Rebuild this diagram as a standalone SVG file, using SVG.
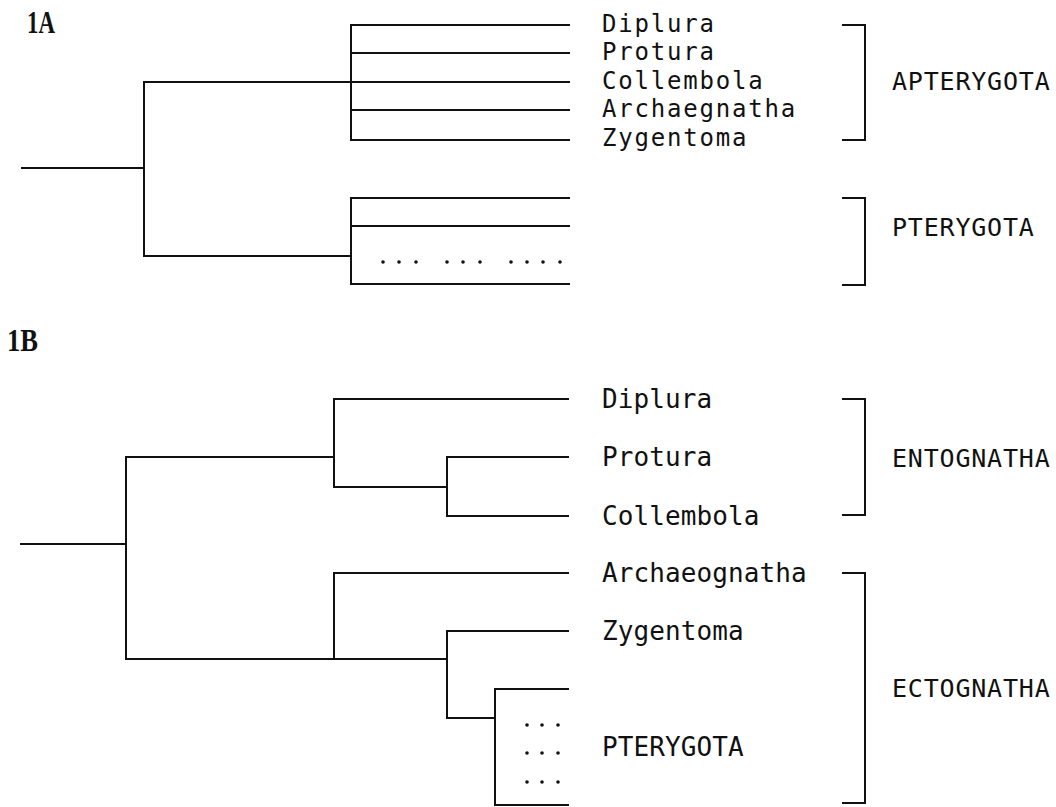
<svg xmlns="http://www.w3.org/2000/svg" width="1056" height="807" viewBox="0 0 1056 807">
<style>
  .ln { fill: none; stroke: #111; stroke-width: 2; stroke-linecap: square; }
  .br { fill: none; stroke: #111; stroke-width: 2; }
  .tA { font-family: "DejaVu Sans Mono", "Liberation Mono", monospace; font-size: 24px; letter-spacing: 1.8px; fill: #111; }
  .tB { font-family: "DejaVu Sans Mono", "Liberation Mono", monospace; font-size: 26px; letter-spacing: 0.1px; fill: #111; }
  .grp { font-family: "DejaVu Sans Mono", "Liberation Mono", monospace; font-size: 25px; letter-spacing: 0.8px; fill: #111; }
  .pl { font-family: "Liberation Serif", serif; font-weight: bold; font-size: 31px; fill: #111; }
  .dot { fill: #111; }
</style>
<rect width="1056" height="807" fill="#fff"/>

<g id="panel-labels">
  <text class="pl" x="27" y="33" textLength="28" lengthAdjust="spacingAndGlyphs">1A</text>
  <text class="pl" x="7" y="351" textLength="31" lengthAdjust="spacingAndGlyphs">1B</text>
</g>

<g id="connectors">
  <!-- 1A -->
  <path class="ln" d="M22,168 H144 M144,82 V256 M144,82 H351 M144,256 H351"/>
  <path class="ln" d="M351,25 V140 M351,25 H569 M351,53 H569 M351,82 H569 M351,110 H569 M351,140 H569"/>
  <path class="ln" d="M351,198 V284 M351,198 H569 M351,226 H569 M351,284 H569"/>
  <!-- 1B -->
  <path class="ln" d="M21,544 H126 M126,457 V659 M126,457 H334 M126,659 H334"/>
  <path class="ln" d="M334,399 V487 M334,399 H568 M334,487 H447 M447,457 V516 M447,457 H568 M447,516 H568"/>
  <path class="ln" d="M334,573 V659 M334,573 H568 M334,659 H447 M447,631 V718 M447,631 H568 M447,718 H495 M495,689 V805 M495,689 H568 M495,805 H568"/>
</g>

<g id="dots-1A">
  <circle class="dot" cx="383" cy="262" r="1.8"/><circle class="dot" cx="399" cy="262" r="1.8"/><circle class="dot" cx="416" cy="262" r="1.8"/>
  <circle class="dot" cx="447" cy="262" r="1.8"/><circle class="dot" cx="463" cy="262" r="1.8"/><circle class="dot" cx="480" cy="262" r="1.8"/>
  <circle class="dot" cx="511" cy="262" r="1.8"/><circle class="dot" cx="527" cy="262" r="1.8"/><circle class="dot" cx="543" cy="262" r="1.8"/><circle class="dot" cx="560" cy="262" r="1.8"/>
</g>

<g id="dots-1B">
  <circle class="dot" cx="527" cy="725" r="1.8"/><circle class="dot" cx="542" cy="725" r="1.8"/><circle class="dot" cx="558" cy="725" r="1.8"/>
  <circle class="dot" cx="527" cy="753" r="1.8"/><circle class="dot" cx="542" cy="753" r="1.8"/><circle class="dot" cx="558" cy="753" r="1.8"/>
  <circle class="dot" cx="527" cy="782" r="1.8"/><circle class="dot" cx="542" cy="782" r="1.8"/><circle class="dot" cx="558" cy="782" r="1.8"/>
</g>

<g id="taxa-1A">
  <text class="tA" x="602" y="32">Diplura</text>
  <text class="tA" x="602" y="60">Protura</text>
  <text class="tA" x="602" y="89">Collembola</text>
  <text class="tA" x="602" y="117">Archaegnatha</text>
  <text class="tA" x="602" y="146">Zygentoma</text>
</g>

<g id="apterygota">
  <path class="br" d="M842,25 H865 V140 H842"/>
  <text class="grp" x="892" y="90">APTERYGOTA</text>
</g>
<g id="pterygota-1A">
  <path class="br" d="M842,198 H865 V285 H842"/>
  <text class="grp" x="892" y="236">PTERYGOTA</text>
</g>

<g id="taxa-1B">
  <text class="tB" x="602" y="408">Diplura</text>
  <text class="tB" x="602" y="466">Protura</text>
  <text class="tB" x="602" y="525">Collembola</text>
  <text class="tB" x="602" y="582">Archaeognatha</text>
  <text class="tB" x="602" y="640">Zygentoma</text>
  <text class="tB" x="602" y="756">PTERYGOTA</text>
</g>

<g id="entognatha">
  <path class="br" d="M842,399 H865 V515 H842"/>
  <text class="grp" x="892" y="467">ENTOGNATHA</text>
</g>
<g id="ectognatha">
  <path class="br" d="M842,573 H865 V803 H842"/>
  <text class="grp" x="892" y="697">ECTOGNATHA</text>
</g>
</svg>
